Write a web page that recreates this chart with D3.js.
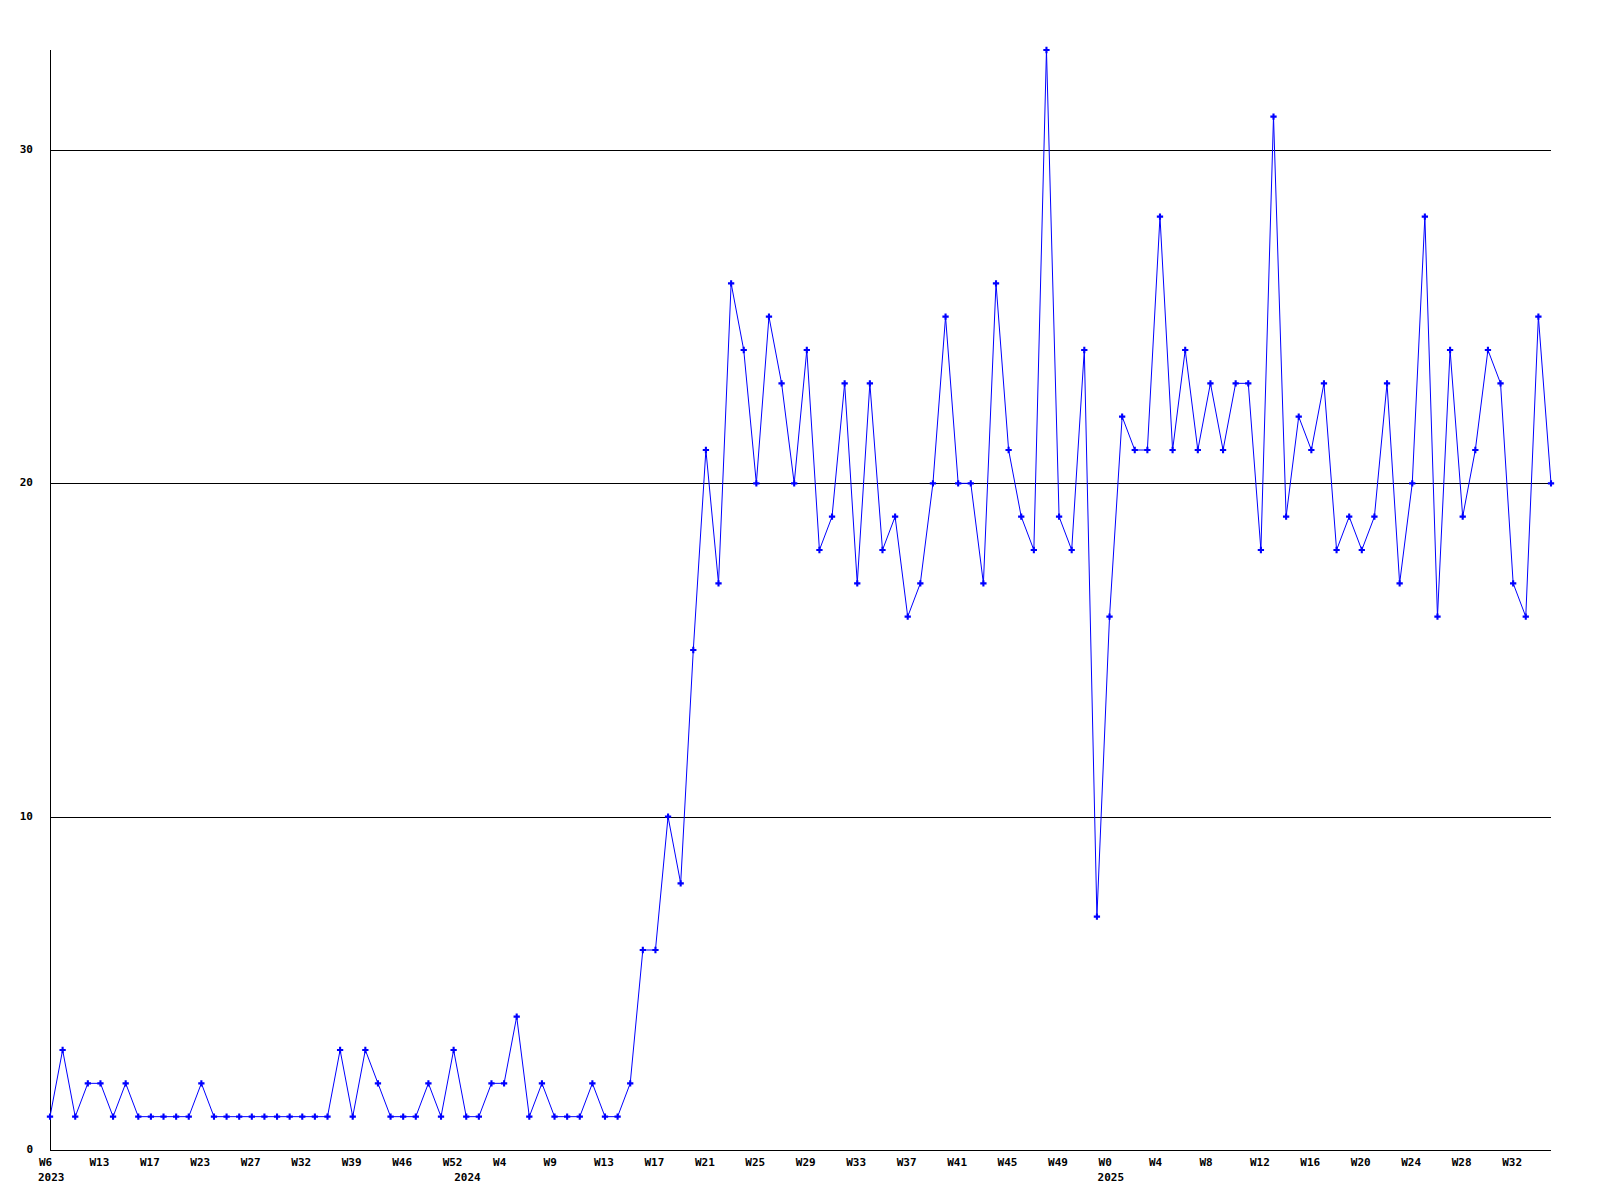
<!DOCTYPE html>
<html>
<head>
<meta charset="utf-8">
<script src="https://cdn.jsdelivr.net/npm/d3@7"></script>
<style>
  html, body { margin: 0; padding: 0; background: #fff; }
  svg text { font-family: "DejaVu Sans Mono", "Liberation Mono", monospace; font-weight: bold; font-size: 11px; fill: #000; }
</style>
</head>
<body>
<svg id="chart" width="1600" height="1200"></svg>
<script>
// Weekly values, one per data row (120 rows)
const values = [
  1, 3, 1, 2, 2, 1, 2, 1, 1, 1,
  1, 1, 2, 1, 1, 1, 1, 1, 1, 1,
  1, 1, 1, 3, 1, 3, 2, 1, 1, 1,
  2, 1, 3, 1, 1, 2, 2, 4, 1, 2,
  1, 1, 1, 2, 1, 1, 2, 6, 6, 10,
  8, 15, 21, 17, 26, 24, 20, 25, 23, 20,
  24, 18, 19, 23, 17, 23, 18, 19, 16, 17,
  20, 25, 20, 20, 17, 26, 21, 19, 18, 33,
  19, 18, 24, 7, 16, 22, 21, 21, 28, 21,
  24, 21, 23, 21, 23, 23, 18, 31, 19, 22,
  21, 23, 18, 19, 18, 19, 23, 17, 20, 28,
  16, 24, 19, 21, 24, 23, 17, 16, 25, 20
];
// Week labels shown every 4th row
const tickLabels = ["W6","W13","W17","W23","W27","W32","W39","W46","W52","W4",
  "W9","W13","W17","W21","W25","W29","W33","W37","W41","W45",
  "W49","W0","W4","W8","W12","W16","W20","W24","W28","W32"];
const tickEvery = 4;
// Year labels and the row where each year begins
const yearLabels = ["2023", "2024", "2025"];
const yearStartRow = [0, 33, 84];
const yTicks = [0, 10, 20, 30];
const yMax = 33;

(function () {
const svg = d3.select("#chart");
const pLeft = 50, pRight = 1551, pTop = 50, pBottom = 1150;

const x = d3.scaleLinear().domain([0, values.length - 1]).range([pLeft, pRight]);
const y = d3.scaleLinear().domain([0, yMax]).range([pBottom, pTop]);

// Gridlines
svg.append("g").selectAll("line").data(yTicks.filter(d => d > 0)).join("line")
  .attr("x1", pLeft).attr("x2", pRight)
  .attr("y1", d => Math.round(y(d)) + 0.5).attr("y2", d => Math.round(y(d)) + 0.5)
  .attr("stroke", "#000").attr("stroke-width", 1);

// Axes lines
svg.append("line").attr("x1", pLeft + 0.5).attr("x2", pLeft + 0.5)
  .attr("y1", pTop).attr("y2", pBottom + 1).attr("stroke", "#000");
svg.append("line").attr("x1", pLeft).attr("x2", pRight)
  .attr("y1", pBottom + 0.5).attr("y2", pBottom + 0.5).attr("stroke", "#000");

// Y labels
svg.append("g").selectAll("text").data(yTicks).join("text")
  .attr("x", 33).attr("y", d => y(d) - 1).attr("dy", "0.35em")
  .attr("text-anchor", "end").text(d => d);

// X week labels
svg.append("g").selectAll("text").data(tickLabels).join("text")
  .attr("x", (d, i) => x(i * tickEvery) - 11).attr("y", 1162).attr("dy", "0.35em")
  .text(d => d);

// Year labels
svg.append("g").selectAll("text").data(yearLabels).join("text")
  .attr("x", (d, i) => x(yearStartRow[i]) - 12).attr("y", 1177).attr("dy", "0.35em")
  .text(d => d);

// Line
const line = d3.line().x((d, i) => x(i)).y(d => y(d));
svg.append("path").datum(values)
  .attr("d", line).attr("fill", "none").attr("stroke", "#0000ff").attr("stroke-width", 1);

// Markers
const sym = d3.symbol().type(d3.symbolCross).size(22);
svg.append("g").selectAll("path").data(values).join("path")
  .attr("transform", (d, i) => `translate(${x(i)},${y(d)})`)
  .attr("d", sym).attr("fill", "#0000ff");
})();
</script>
</body>
</html>
